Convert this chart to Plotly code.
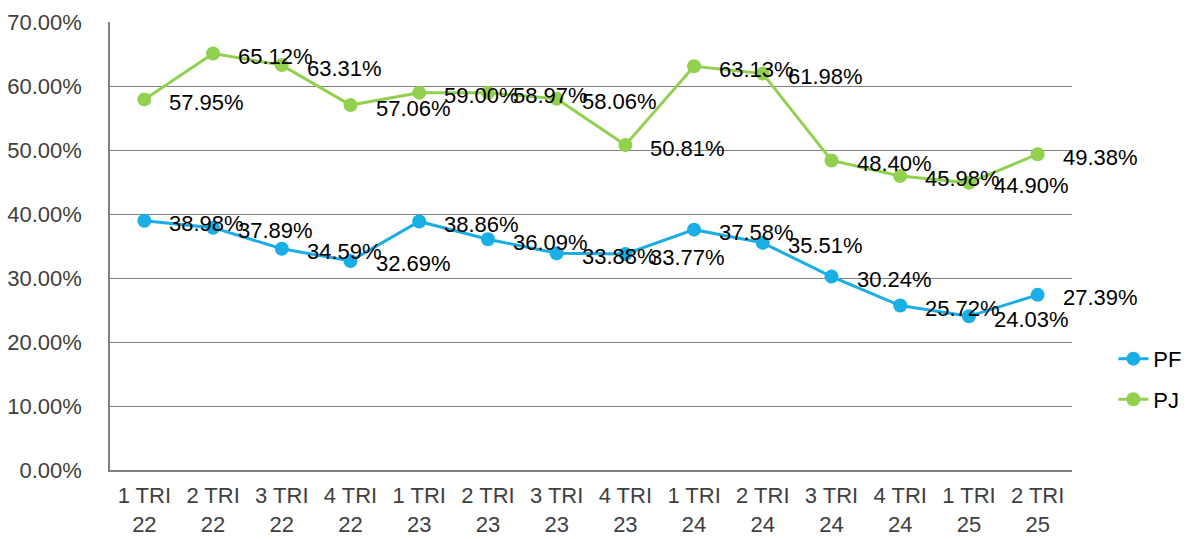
import plotly.graph_objects as go

categories = ["1 TRI<br>22", "2 TRI<br>22", "3 TRI<br>22", "4 TRI<br>22",
              "1 TRI<br>23", "2 TRI<br>23", "3 TRI<br>23", "4 TRI<br>23",
              "1 TRI<br>24", "2 TRI<br>24", "3 TRI<br>24", "4 TRI<br>24",
              "1 TRI<br>25", "2 TRI<br>25"]
pf_values = [38.98, 37.89, 34.59, 32.69, 38.86, 36.09, 33.88, 33.77,
             37.58, 35.51, 30.24, 25.72, 24.03, 27.39]
pj_values = [57.95, 65.12, 63.31, 57.06, 59.00, 58.97, 58.06, 50.81,
             63.13, 61.98, 48.40, 45.98, 44.90, 49.38]
y_ticks = [0, 10, 20, 30, 40, 50, 60, 70]

PF_COLOR = "#19AEE6"
PJ_COLOR = "#92D050"
FONT = "Liberation Sans, Arial, sans-serif"

fig = go.Figure()
fig.add_trace(go.Scatter(x=categories, y=pf_values, name="PF", mode="lines+markers",
                         line=dict(color=PF_COLOR, width=3),
                         marker=dict(color=PF_COLOR, size=14), legendgroup="pf"))
fig.add_trace(go.Scatter(x=categories, y=pj_values, name="PJ", mode="lines+markers",
                         line=dict(color=PJ_COLOR, width=3),
                         marker=dict(color=PJ_COLOR, size=14), legendgroup="pj"))

annotations = []
for series in (pf_values, pj_values):
    for c, v in zip(categories, series):
        annotations.append(dict(x=c, y=v, text=f"{v:.2f}%", showarrow=False,
                                xanchor="left", yanchor="middle", xshift=23, yshift=-3,
                                font=dict(family=FONT, size=22, color="#000000")))

fig.update_layout(
    width=1195, height=539,
    margin=dict(l=110, r=123, t=22, b=69, autoexpand=False),
    paper_bgcolor="white", plot_bgcolor="white",
    font=dict(family=FONT, size=22, color="#404040"),
    showlegend=True,
    legend=dict(x=1.043, xanchor="left", y=0.295, yanchor="top",
                font=dict(family=FONT, size=22, color="#000000"),
                traceorder="grouped", tracegroupgap=9, bgcolor="rgba(0,0,0,0)"),
    annotations=annotations,
)
fig.update_xaxes(type="category", range=[-0.5, 13.5], showgrid=False,
                 showline=True, linecolor="#808080", linewidth=1.5,
                 ticks="", ticklabelstandoff=5, automargin=False,
                 tickfont=dict(family=FONT, size=22, color="#404040"))
fig.update_yaxes(range=[0, 70.05], tickvals=y_ticks, ticktext=[f"{t:.2f}%" for t in y_ticks],
                 showgrid=True, gridcolor="#808080", gridwidth=1,
                 showline=True, linecolor="#808080", linewidth=1.5,
                 zeroline=False, ticks="", ticklabelstandoff=22, automargin=False,
                 tickfont=dict(family=FONT, size=22, color="#404040"))

fig.write_html("out.html", config={"displayModeBar": False})

# remove the default page margin so the figure sits at the window's top-left corner
with open("out.html", "r", encoding="utf-8") as f:
    html = f.read()
html = html.replace("<body>", '<body style="margin:0;overflow:hidden">', 1)
with open("out.html", "w", encoding="utf-8") as f:
    f.write(html)
